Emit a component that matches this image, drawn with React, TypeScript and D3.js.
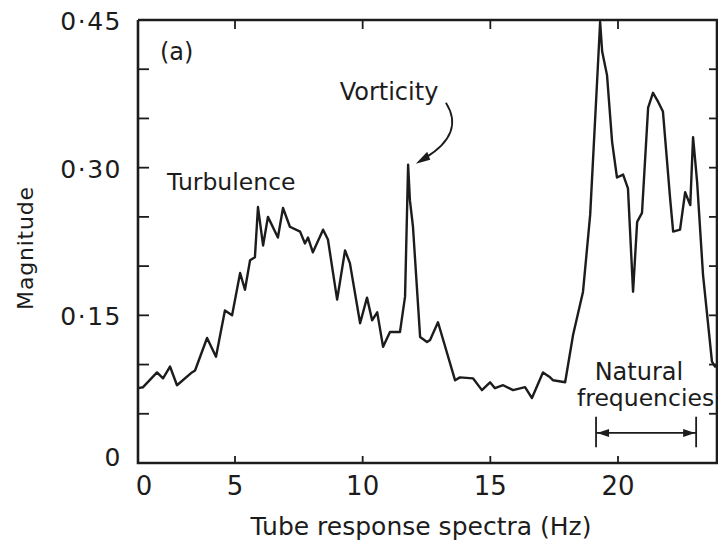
import React from 'react';
import * as d3 from 'd3';

// Tube response spectrum (Hz, magnitude)
const freq = [
  0, 0.26, 0.98, 1.29, 1.65, 2.01, 2.78, 2.94, 3.56, 4.02, 4.48, 4.85,
  5.2, 5.39, 5.59, 5.78, 5.9, 6.1, 6.29, 6.68, 6.88, 7.15, 7.55, 7.74, 7.86,
  8.05, 8.45, 8.64, 9.0, 9.31, 9.5, 9.9, 10.17, 10.37, 10.57, 10.8, 11.07,
  11.46, 11.66, 11.78, 11.85, 11.97, 12.25, 12.52, 12.64, 12.95, 13.62, 13.81,
  14.32, 14.67, 14.99, 15.18, 15.5, 15.89, 16.36, 16.63, 17.06, 17.34, 17.46,
  17.93, 18.24, 18.63, 18.91, 19.18, 19.3, 19.38, 19.57, 19.77, 19.96, 20.2,
  20.39, 20.59, 20.75, 20.94, 21.18, 21.37, 21.57, 21.76, 22.04, 22.16, 22.43,
  22.63, 22.83, 22.94, 23.1, 23.33, 23.68, 23.8, 24.0,
];
const magnitude = [
  0.076, 0.077, 0.092, 0.086, 0.098, 0.079, 0.092, 0.094, 0.127, 0.108, 0.155, 0.15,
  0.193, 0.176, 0.206, 0.209, 0.26, 0.221, 0.25, 0.229, 0.259, 0.24, 0.235, 0.223, 0.229,
  0.214, 0.237, 0.227, 0.166, 0.216, 0.203, 0.142, 0.168, 0.145, 0.153, 0.118, 0.133,
  0.133, 0.169, 0.303, 0.267, 0.24, 0.128, 0.123, 0.125, 0.143, 0.084, 0.087,
  0.086, 0.074, 0.082, 0.076, 0.079, 0.074, 0.077, 0.066, 0.092, 0.087, 0.084,
  0.082, 0.13, 0.174, 0.252, 0.387, 0.448, 0.418, 0.394, 0.326, 0.29, 0.293,
  0.279, 0.174, 0.245, 0.254, 0.361, 0.376, 0.367, 0.357, 0.269, 0.235, 0.237,
  0.275, 0.262, 0.331, 0.285, 0.191, 0.103, 0.098, 0.1,
];

const xTicks = [0, 5, 10, 15, 20];
const xTickLabels = ['0', '5', '10', '15', '20'];
const yMajor = [0, 0.15, 0.3, 0.45];
const yTickLabels = ['0', '0·15', '0·30', '0·45'];
const yMinor = [0.05, 0.1, 0.2, 0.25, 0.35, 0.4];
const bracket = [19.14, 23.06];

const W = 718;
const H = 540;
const FONT = '"DejaVu Sans", sans-serif';
const INK = '#1c1c1c';

export default function App() {
  // the printed frequency axis is not evenly spaced between 0 and 5 Hz
  const x = d3.scaleLinear().domain([0, 5, 20]).range([138, 235, 618]);
  const y = d3.scaleLinear().domain([0, 0.45]).range([463, 20]);
  const left = x(0);
  const right = W - 1;
  const top = y(0.45);
  const bottom = y(0);

  const pts = freq.map((f, i) => [f, magnitude[i]] as [number, number]);
  const line = d3.line<[number, number]>()
    .x(d => x(d[0]))
    .y(d => y(d[1]));

  // vorticity arrow, anchored in data space
  const a0 = [x(13.26), y(0.366)];
  const a1 = [x(13.55), y(0.345)];
  const a2 = [x(12.45), y(0.31)];
  const tip = [x(12.08), y(0.304)];

  return (
    <svg width={W} height={H} style={{ position: 'absolute', left: 0, top: 0, background: '#fff' }}
      fontFamily={FONT} fill={INK}>
      <defs>
        <clipPath id="plot">
          <rect x={left} y={top - 2} width={right - left} height={bottom - top + 2} />
        </clipPath>
      </defs>

      {/* frame */}
      <path d={`M${left},${top}V${bottom}H${W}M${left},${top}H${W}M${right},${top}V${bottom}`}
        fill="none" stroke={INK} strokeWidth={2.6} />

      {/* x ticks, bottom (up) and top (down) */}
      {xTicks.map(t => (
        <g key={'xt' + t}>
          {t > 0 && <line x1={x(t)} x2={x(t)} y1={bottom} y2={bottom - 7} stroke={INK} strokeWidth={1.8} />}
          {t > 0 && <line x1={x(t)} x2={x(t)} y1={top} y2={top + 9} stroke={INK} strokeWidth={1.8} />}
        </g>
      ))}
      {xTicks.map((t, i) => (
        <text key={'xl' + t} x={x(t) + (t === 0 ? 6 : 0)} y={bottom + 32} fontSize={26} textAnchor="middle">
          {xTickLabels[i]}
        </text>
      ))}

      {/* y ticks, left and right */}
      {[...yMajor, ...yMinor].map(t => (
        <g key={'yt' + t}>
          {t > 0 && t < 0.45 && <line x1={left} x2={left + 11} y1={y(t)} y2={y(t)} stroke={INK} strokeWidth={1.8} />}
          {t > 0 && t < 0.45 && <line x1={right} x2={right - 8} y1={y(t)} y2={y(t)} stroke={INK} strokeWidth={1.8} />}
        </g>
      ))}
      {yMajor.map((t, i) => (
        <text key={'yl' + t} x={left - 16} y={y(t) + (t === 0 ? 3 : 10)} fontSize={25}
          textAnchor="end" letterSpacing={1.5}>
          {yTickLabels[i]}
        </text>
      ))}

      {/* axis titles */}
      <text x={421} y={535} fontSize={25} textAnchor="middle">
        Tube response spectra (Hz)
      </text>
      <text transform={`translate(33,${248}) rotate(-90)`} fontSize={22} textAnchor="middle" letterSpacing={0.8}>
        Magnitude
      </text>

      {/* spectrum */}
      <path d={line(pts) || ''} fill="none" stroke={INK} strokeWidth={2.4} strokeLinejoin="round"
        clipPath="url(#plot)" />

      {/* annotations */}
      <text x={x(1.13)} y={y(0.409)} fontSize={24}>(a)</text>
      <text x={x(1.5)} y={y(0.277)} fontSize={23.5}>Turbulence</text>
      <text x={x(9.1)} y={y(0.369)} fontSize={24}>Vorticity</text>
      <path d={`M${a0[0]},${a0[1]}Q${a1[0] + 12},${a1[1] + 10} ${a2[0]},${a2[1]}`} fill="none"
        stroke={INK} strokeWidth={1.8} />
      <path d={`M${tip[0]},${tip[1]}L${a2[0] + 2},${a2[1] - 6}L${a2[0] + 5},${a2[1] + 2}Z`} fill={INK} />

      <text x={x(20.82)} y={y(0.084)} fontSize={24} textAnchor="middle">Natural</text>
      <text x={x(21.08)} y={y(0.058)} fontSize={23.5} textAnchor="middle">frequencies</text>
      <g stroke={INK} strokeWidth={1.8}>
        <line x1={x(bracket[0])} x2={x(bracket[0])} y1={y(0.047)} y2={y(0.016)} />
        <line x1={x(bracket[1])} x2={x(bracket[1])} y1={y(0.047)} y2={y(0.016)} />
        <line x1={x(bracket[0])} x2={x(bracket[1])} y1={y(0.0305)} y2={y(0.0305)} />
      </g>
      <path d={`M${x(bracket[0]) + 1},${y(0.0305)}l12,-4l0,8Z`} fill={INK} />
      <path d={`M${x(bracket[1]) - 1},${y(0.0305)}l-12,-4l0,8Z`} fill={INK} />
    </svg>
  );
}
